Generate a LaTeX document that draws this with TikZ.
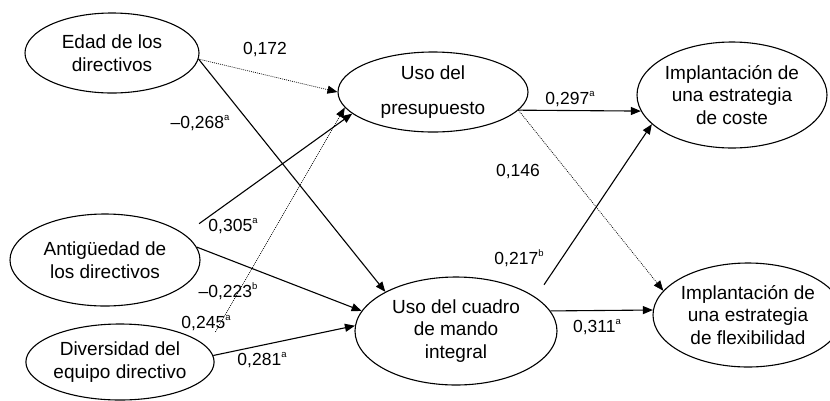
\documentclass[tikz,border=0pt]{standalone}
\usepackage{fontspec}
\setmainfont{Liberation Sans}
\usetikzlibrary{shapes.geometric, arrows.meta, positioning}
\newcommand{\sig}[1]{\raisebox{0.42em}{\fontsize{9.5}{10}\selectfont #1}}

\begin{document}
\begin{tikzpicture}[
    x=1pt, y=-1pt,
    var/.style={draw, ellipse, line width=1.1pt, inner sep=0pt, align=center, font=\fontsize{19}{22.5}\selectfont},
    arrow/.style={-{Triangle[length=10pt,width=8pt]}, line width=1.1pt},
    weak/.style={-{Triangle[length=10pt,width=8pt]}, line width=0.7pt, dash pattern=on 0.9pt off 1.1pt},
    coef/.style={font=\fontsize{17.5}{20}\selectfont, inner sep=0pt}
]
    \useasboundingbox (0,0) rectangle (830,400);

    % Antecedents
    \node[var, minimum width=174pt, minimum height=80pt] (edad) at (112,53) {Edad de los\\directivos};
    \node[var, minimum width=190pt, minimum height=92pt] (antig) at (105,260) {Antigüedad de\\los directivos};
    \node[var, minimum width=188pt, minimum height=76pt] (divers) at (120,362) {Diversidad del\\equipo directivo};

    % Control systems
    \node[var, minimum width=190pt, minimum height=80pt] (presup) at (433,92) {Uso del\\[12pt]presupuesto};
    \node[var, minimum width=202pt, minimum height=108pt] (cmi) at (456,331) {Uso del cuadro\\de mando\\integral};

    % Strategies
    \node[var, minimum width=190pt, minimum height=106pt] (coste) at (732,95) {Implantación de\\una estrategia\\de coste};
    \node[var, minimum width=190pt, minimum height=104pt] (flexib) at (748,315) {Implantación de\\una estrategia\\de flexibilidad};

    % Paths
    \draw[weak] (edad.-4) -- (presup.180);
    \draw[arrow] (edad.-4) -- (cmi.151);
    \draw[arrow, shorten <=18pt] (antig.18) -- (presup.195);
    \draw[weak, shorten <=17pt] (divers.10) -- (presup.190);
    \draw[arrow] (antig.8) -- (cmi.168);
    \draw[arrow] (divers.4) -- (cmi.177);
    \draw[arrow] (presup.-12) -- (coste.190);
    \draw[weak] (presup.-12) -- (flexib.164);
    \draw[arrow, shorten <=15pt] (cmi.23) -- (coste.200);
    \draw[arrow] (cmi.12) -- (flexib.177);

    % Coefficients
    \node[coef] (c172) at (265,50) {0,172};
    \node[coef] (c268) at (200,123) {--0,268\sig{a}};
    \node[coef] (c305) at (233,226) {0,305\sig{a}};
    \node[coef] (c223) at (228,291) {--0,223\sig{b}};
    \node[coef] (c245) at (206,323) {0,245\sig{a}};
    \node[coef] (c281) at (262,360) {0,281\sig{a}};
    \node[coef] (c297) at (570,99) {0,297\sig{a}};
    \node[coef] (c146) at (518,172) {0,146};
    \node[coef] (c217) at (519,258) {0,217\sig{b}};
    \node[coef] (c311) at (597,327) {0,311\sig{a}};
\end{tikzpicture}
\end{document}
